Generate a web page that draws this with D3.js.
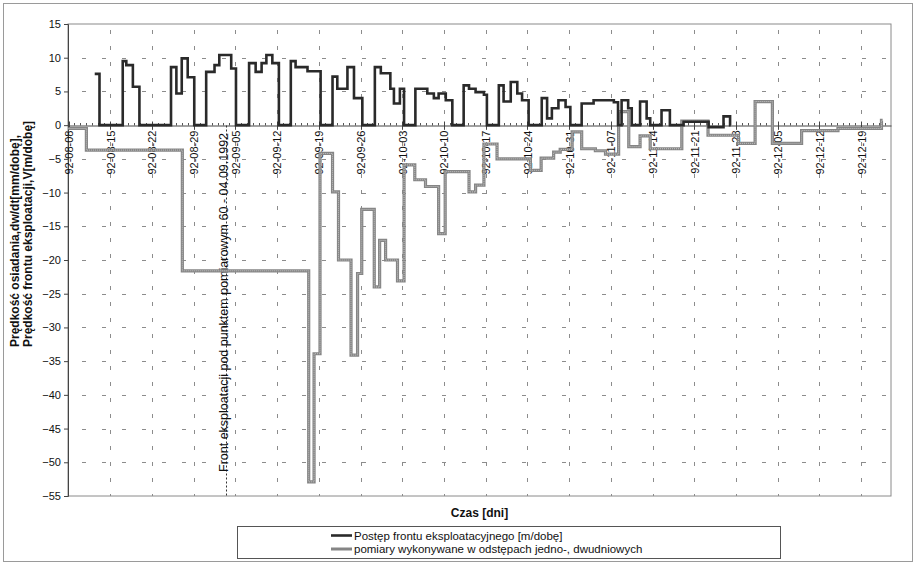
<!DOCTYPE html>
<html><head><meta charset="utf-8">
<script src="https://cdn.jsdelivr.net/npm/d3@7"></script>
<style>
body{margin:0;background:#fff}
svg{display:block}
text{font-family:"Liberation Sans",Arial,sans-serif;fill:#111}
</style>
</head><body>
<svg id="c" width="917" height="566"></svg>
<script>
// ---------- DATA ----------
const startDate = "1992-08-08";
const endDate = "1992-12-24";
const xTickLabels = ["92-08-08","92-08-15","92-08-22","92-08-29","92-09-05","92-09-12","92-09-19","92-09-26",
  "92-10-03","92-10-10","92-10-17","92-10-24","92-10-31","92-11-07","92-11-14","92-11-21","92-11-28",
  "92-12-05","92-12-12","92-12-19"];
const yTicks = [15,10,5,0,-5,-10,-15,-20,-25,-30,-35,-40,-45,-50,-55];

// Postęp frontu eksploatacyjnego [m/dobę] — step changes (days after 92-08-08, value)
const frontDays = [4.4,5.2,9.1,9.7,10.8,11.9,17.2,18.1,19.0,20.0,21.1,23.1,24.5,25.3,27.3,28.1,30.3,31.4,32.4,33.2,
  34.2,35.3,37.3,38.1,40.1,42.3,44.3,45.1,46.8,47.9,49.3,51.4,52.4,54.0,54.6,55.6,56.3,58.2,60.2,61.3,62.1,63.3,64.4,
  66.3,67.2,68.3,69.7,70.2,72.2,73.0,74.2,75.3,76.1,77.2,79.4,80.3,81.1,82.2,83.4,84.2,86.1,88.1,91.5,92.2,92.8,93.9,
  94.5,95.9,97.0,97.6,99.5,100.9,103.2,107.4,109.9,111.0];
const frontValues = [7.6,0,9.5,8.9,5.7,0,8.6,4.7,9.9,7.1,0,7.9,8.9,10.4,8.4,0,9.2,7.9,9.2,10.4,
  9.2,0,9.5,8.6,8.0,0,7.2,5.4,8.6,4.0,0,8.6,7.7,5.4,3.2,5.4,0,5.4,4.7,4.0,4.7,3.7,0,
  5.9,5.4,4.9,4.5,0,5.9,3.5,6.4,4.7,3.7,0,4.0,1.0,2.5,3.7,2.7,0,3.2,3.7,3.4,0,3.7,2.5,
  0,3.5,1.0,0,2.2,0,0.5,-0.3,1.3,0];

// pomiary wykonywane w odstępach jedno-, dwudniowych — step changes
const pomiarDays = [0,3.0,19.1,40.3,41.2,42.2,44.3,45.3,47.4,48.5,49.2,51.3,52.2,53.2,55.2,56.3,58.1,59.9,62.1,63.2,
  67.2,68.3,69.7,71.9,77.5,79.3,81.4,82.5,84.5,86.1,88.4,90.1,92.3,94.0,95.9,97.6,102.9,107.3,112.4,115.2,118.1,
  123.0,129.1,136.4];
const pomiarValues = [-0.5,-3.7,-21.6,-52.9,-33.9,-4.2,-9.9,-20.0,-34.1,-22.0,-12.5,-24.0,-17.1,-20.0,-23.1,-5.9,-8.1,-9.1,-16.1,-6.9,
  -9.9,-8.9,-2.8,-5.0,-6.7,-4.9,-4.0,-3.6,-1.0,-3.5,-3.8,-4.3,2.0,-3.2,-1.6,-3.5,0.6,-1.5,-2.7,3.5,-2.7,
  -0.8,-0.5,0.7];
const pomiarEndDay = 136.6;
const frontEndDay = 111.1;

const annotationDate = "1992-09-03T10:00";
const annotationText = "Front eksploatacji pod punktem pomiarowym 60 - 04.09.1992";
const yTitle1 = "Prędkość osiadania,dw/dt[mm/dobę],";
const yTitle2 = "Prędkość frontu eksploatacji,V[m/dobę]";
const xTitle = "Czas [dni]";
const legendNames = ["Postęp frontu eksploatacyjnego [m/dobę]","pomiary wykonywane w odstępach jedno-, dwudniowych"];

// ---------- CHART ----------
const svg = d3.select("#c");
const L = 68, R = 891, T = 24, B = 496;
const DAY = 864e5;
const parseISO = d3.utcParse("%Y-%m-%d");
const parseShort = d3.utcParse("%y-%m-%d");
const t0 = parseISO(startDate);
const x = d3.scaleUtc().domain([t0, parseISO(endDate)]).range([L + 0.5, R]);
const y = d3.scaleLinear().domain([-55, 15]).range([B, T]);
const dayDate = d => new Date(t0.getTime() + d * DAY);
const tickDates = xTickLabels.map(parseShort);

// outer frame
svg.append("rect").attr("x",3.5).attr("y",3.5).attr("width",909).attr("height",558)
  .attr("fill","#fff").attr("stroke","#9a9a9a");

// plot border
svg.append("rect").attr("x",L).attr("y",T).attr("width",R-L).attr("height",B-T)
  .attr("fill","none").attr("stroke","#8a8a8a").attr("stroke-width",1);

// gridlines
const grid = svg.append("g");
grid.selectAll(".hg").data(yTicks.filter(v => v !== 0 && v !== 15 && v !== -55)).join("line")
  .attr("x1",L).attr("x2",R).attr("y1",d=>Math.round(y(d))+0.5).attr("y2",d=>Math.round(y(d))+0.5)
  .attr("stroke","#8c8c8c").attr("stroke-width",1).attr("stroke-dasharray","4,16").attr("stroke-dashoffset",-14);
grid.selectAll(".vg").data(tickDates.slice(1)).join("line")
  .attr("x1",d=>Math.round(x(d))+0.5).attr("x2",d=>Math.round(x(d))+0.5).attr("y1",T).attr("y2",B)
  .attr("stroke","#8c8c8c").attr("stroke-width",1).attr("stroke-dasharray","4,12").attr("stroke-dashoffset",-6);

// y axis
const yAxis = svg.append("g").attr("transform",`translate(${L},0)`)
  .call(d3.axisLeft(y).tickValues(yTicks).tickSize(4).tickPadding(3));
yAxis.select(".domain").attr("stroke","#444");
yAxis.selectAll(".tick line").attr("stroke","#444");
yAxis.selectAll("text").attr("font-size",11).style("font-family",'"Liberation Sans",Arial,sans-serif').attr("fill","#111");

// x axis at zero
const y0 = Math.round(y(0)) + 0.5;
const xAxis = svg.append("g").attr("transform",`translate(0,${y0})`)
  .call(d3.axisBottom(x).tickValues(tickDates).tickFormat((d,i)=>xTickLabels[i]).tickSize(0).tickPadding(0));
xAxis.select(".domain").attr("stroke","#444");
xAxis.selectAll("text")
  .attr("transform","rotate(-90)").attr("x",-5).attr("y",0).attr("dy","0.35em")
  .style("text-anchor","end").attr("font-size",11)
  .style("font-family",'"Liberation Sans",Arial,sans-serif').attr("fill","#111");
// minor daily ticks & major weekly ticks
const allDays = d3.utcDay.range(t0, parseISO(endDate));
svg.append("g").selectAll("line").data(allDays).join("line")
  .attr("x1",d=>Math.round(x(d))+0.5).attr("x2",d=>Math.round(x(d))+0.5)
  .attr("y1",y0-2.5).attr("y2",y0).attr("stroke","#555");
svg.append("g").selectAll("line").data(tickDates).join("line")
  .attr("x1",d=>Math.round(x(d))+0.5).attr("x2",d=>Math.round(x(d))+0.5)
  .attr("y1",y0-4).attr("y2",y0+4).attr("stroke","#444");

// annotation line & text
const ax = Math.round(x(new Date(annotationDate+"Z"))) + 0.5;
svg.append("line").attr("x1",ax).attr("x2",ax).attr("y1",y0).attr("y2",B)
  .attr("stroke","#333").attr("stroke-dasharray","2,2");
svg.append("text").attr("transform",`translate(${ax+1},${B-24}) rotate(-90)`)
  .attr("font-size",12.5).attr("fill","#222").text(annotationText);

// series
const stepLine = d3.line().x(d=>x(d[0])).y(d=>y(d[1])).curve(d3.curveStepAfter);
const pomiarPts = pomiarDays.map((d,i)=>[dayDate(d), pomiarValues[i]]);
pomiarPts.push([dayDate(pomiarEndDay), pomiarValues[pomiarValues.length-1]]);
const frontPts = frontDays.map((d,i)=>[dayDate(d), frontValues[i]]);
frontPts.push([dayDate(frontEndDay), frontValues[frontValues.length-1]]);

svg.append("path").attr("d",stepLine(pomiarPts)).attr("fill","none")
  .attr("stroke","#858585").attr("stroke-width",3.2);
svg.append("path").attr("d",stepLine(pomiarPts)).attr("fill","none")
  .attr("stroke","#c4c4c4").attr("stroke-width",1).attr("stroke-dasharray","1,1");
svg.append("path").attr("d",stepLine(frontPts)).attr("fill","none")
  .attr("stroke","#2a2a2a").attr("stroke-width",2.6);

// y title
svg.append("text").attr("transform","translate(19,347) rotate(-90)")
  .attr("font-size",12).attr("font-weight","bold").text(yTitle1);
svg.append("text").attr("transform","translate(32,347) rotate(-90)")
  .attr("font-size",12).attr("font-weight","bold").text(yTitle2);

// x title
svg.append("text").attr("x",(L+R)/2).attr("y",517).attr("text-anchor","middle")
  .attr("font-size",12).attr("font-weight","bold").text(xTitle);

// legend
svg.append("rect").attr("x",237.5).attr("y",526.5).attr("width",543).attr("height",32)
  .attr("fill","#fff").attr("stroke","#555");
const lg = svg.append("g");
const rows = [535.5, 549];
lg.append("line").attr("x1",331).attr("x2",352).attr("y1",rows[0]).attr("y2",rows[0])
  .attr("stroke","#2a2a2a").attr("stroke-width",2.6);
lg.append("line").attr("x1",331).attr("x2",352).attr("y1",rows[1]).attr("y2",rows[1])
  .attr("stroke","#858585").attr("stroke-width",3);
legendNames.forEach((n,i)=>{
  lg.append("text").attr("x",354).attr("y",rows[i]+4).attr("font-size",11.5).text(n);
});
</script>
</body></html>
